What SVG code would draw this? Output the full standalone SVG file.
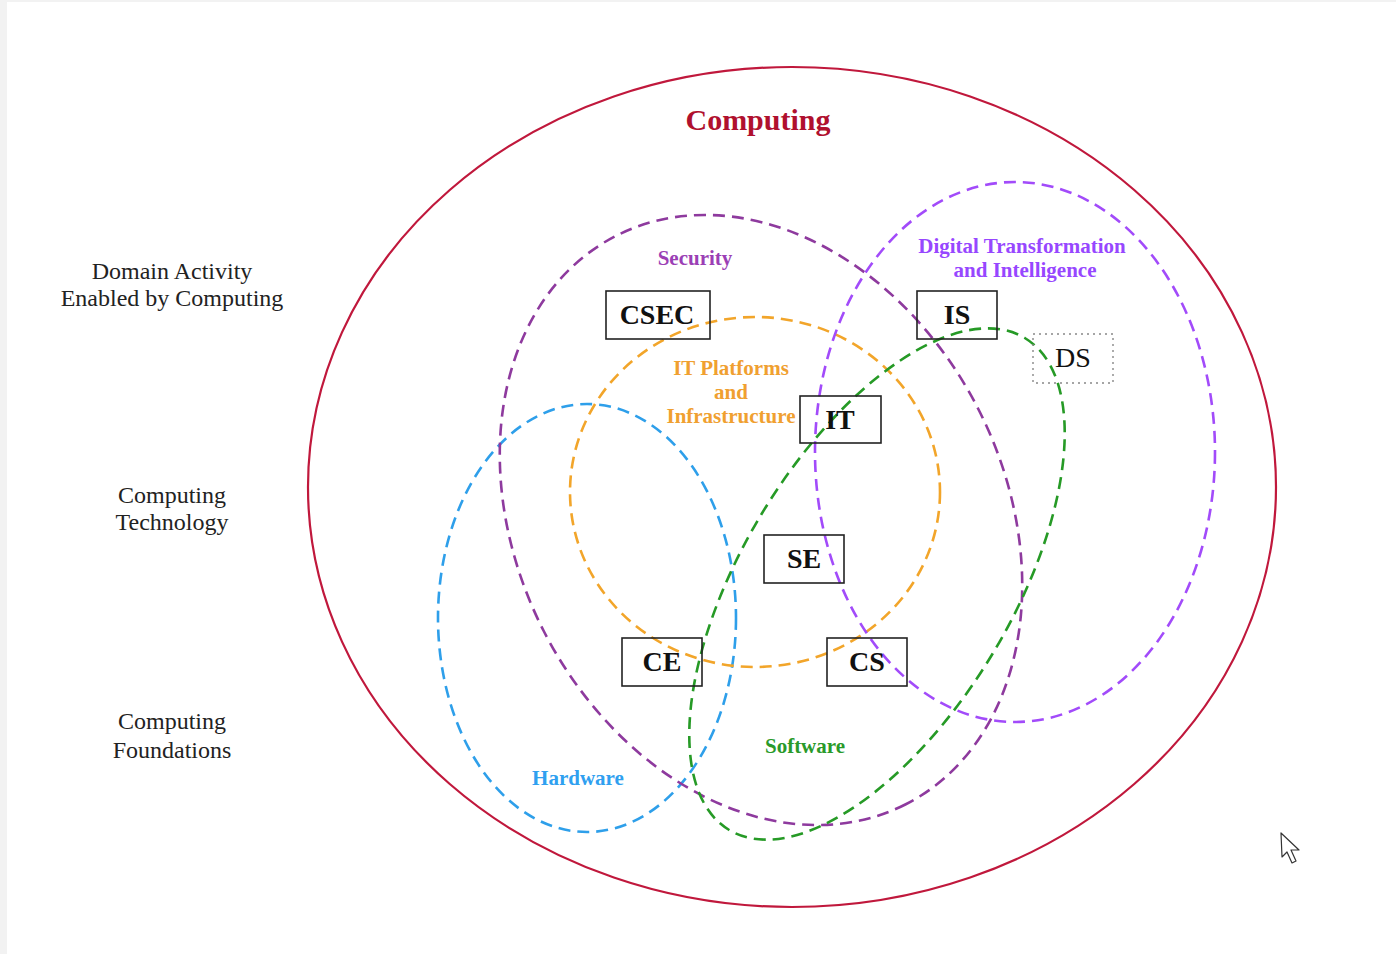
<svg xmlns="http://www.w3.org/2000/svg" width="1396" height="954" viewBox="0 0 1396 954">
  <style>
    .area { fill: none; stroke-width: 2.6; stroke-dasharray: 12 7; }
    .box rect { fill: #fff; fill-opacity: 0; stroke: #222; stroke-width: 1.6; }
    .box text { font-family: "Liberation Serif", "Times New Roman", serif; font-weight: bold; font-size: 28px; fill: #111; text-anchor: middle; }
    .lbl { font-family: "Liberation Serif", "Times New Roman", serif; font-weight: bold; font-size: 21px; text-anchor: middle; }
    .side { font-family: "Liberation Serif", "Times New Roman", serif; font-size: 24px; fill: #222; text-anchor: middle; }
  </style>

  <!-- page background with a light frame on the left/top edges -->
  <rect x="0" y="0" width="1396" height="954" fill="#f2f2f2"/>
  <rect x="7" y="2" width="1389" height="952" fill="#ffffff"/>

  <!-- outer boundary -->
  <ellipse cx="792" cy="487" rx="484" ry="420" fill="none" stroke="#C0183C" stroke-width="2.2"/>
  <text x="758" y="130" font-family="Liberation Serif, Times New Roman, serif" font-weight="bold" font-size="30" fill="#B0102E" text-anchor="middle">Computing</text>

  <!-- left-hand level labels -->
  <g id="levels">
    <text class="side" x="172" y="279">Domain Activity</text>
    <text class="side" x="172" y="306">Enabled by Computing</text>
    <text class="side" x="172" y="503">Computing</text>
    <text class="side" x="172" y="530">Technology</text>
    <text class="side" x="172" y="729">Computing</text>
    <text class="side" x="172" y="758">Foundations</text>
  </g>

  <!-- dashed knowledge areas -->
  <g id="areas">
    <ellipse class="area" cx="587" cy="618" rx="149" ry="214" stroke="#2E9FEA"/>
    <ellipse class="area" cx="755" cy="492" rx="185" ry="175" stroke="#F2A52A"/>
    <ellipse class="area" cx="761" cy="520" rx="319" ry="244" transform="rotate(63 761 520)" stroke="#8E3A9E"/>
    <ellipse class="area" cx="1015" cy="452" rx="200" ry="270" stroke="#A24BFA"/>
    <ellipse class="area" cx="877" cy="584" rx="287" ry="135" transform="rotate(-59 877 584)" stroke="#269A26"/>
  </g>

  <!-- area labels -->
  <g id="area-labels">
    <text class="lbl" x="695" y="265" font-size="22" fill="#9B3FB5">Security</text>
    <text class="lbl" x="1022" y="253" fill="#9747FF">Digital Transformation</text>
    <text class="lbl" x="1025" y="277" fill="#9747FF">and Intelligence</text>
    <text class="lbl" x="731" y="375" fill="#F0A030">IT Platforms</text>
    <text class="lbl" x="731" y="399" fill="#F0A030">and</text>
    <text class="lbl" x="731" y="423" fill="#F0A030">Infrastructure</text>
    <text class="lbl" x="578" y="785" fill="#2FA0F0">Hardware</text>
    <text class="lbl" x="805" y="753" fill="#2A9A2A">Software</text>
  </g>

  <!-- disciplines -->
  <g id="CSEC" class="box"><rect x="606" y="291" width="104" height="48"/><text x="657" y="324">CSEC</text></g>
  <g id="IS" class="box"><rect x="917" y="291" width="80" height="48"/><text x="957" y="324">IS</text></g>
  <g id="IT" class="box"><rect x="800" y="396" width="81" height="47"/><text x="840" y="429">IT</text></g>
  <g id="SE" class="box"><rect x="764" y="535" width="80" height="48"/><text x="804" y="568">SE</text></g>
  <g id="CE" class="box"><rect x="622" y="638" width="80" height="48"/><text x="662" y="671">CE</text></g>
  <g id="CS" class="box"><rect x="827" y="638" width="80" height="48"/><text x="867" y="671">CS</text></g>
  <g id="DS">
    <rect x="1033" y="334" width="80" height="49" fill="none" stroke="#888" stroke-width="1.4" stroke-dasharray="2 4"/>
    <text x="1073" y="367" font-family="Liberation Serif, Times New Roman, serif" font-size="28" fill="#111" text-anchor="middle">DS</text>
  </g>

  <!-- pointer -->
  <path d="M1281 833 L1282 857 L1287 852 L1292 863 L1296 861 L1291 850 L1299 850 Z" fill="#fff" stroke="#333" stroke-width="1.2" stroke-linejoin="round"/>
</svg>
